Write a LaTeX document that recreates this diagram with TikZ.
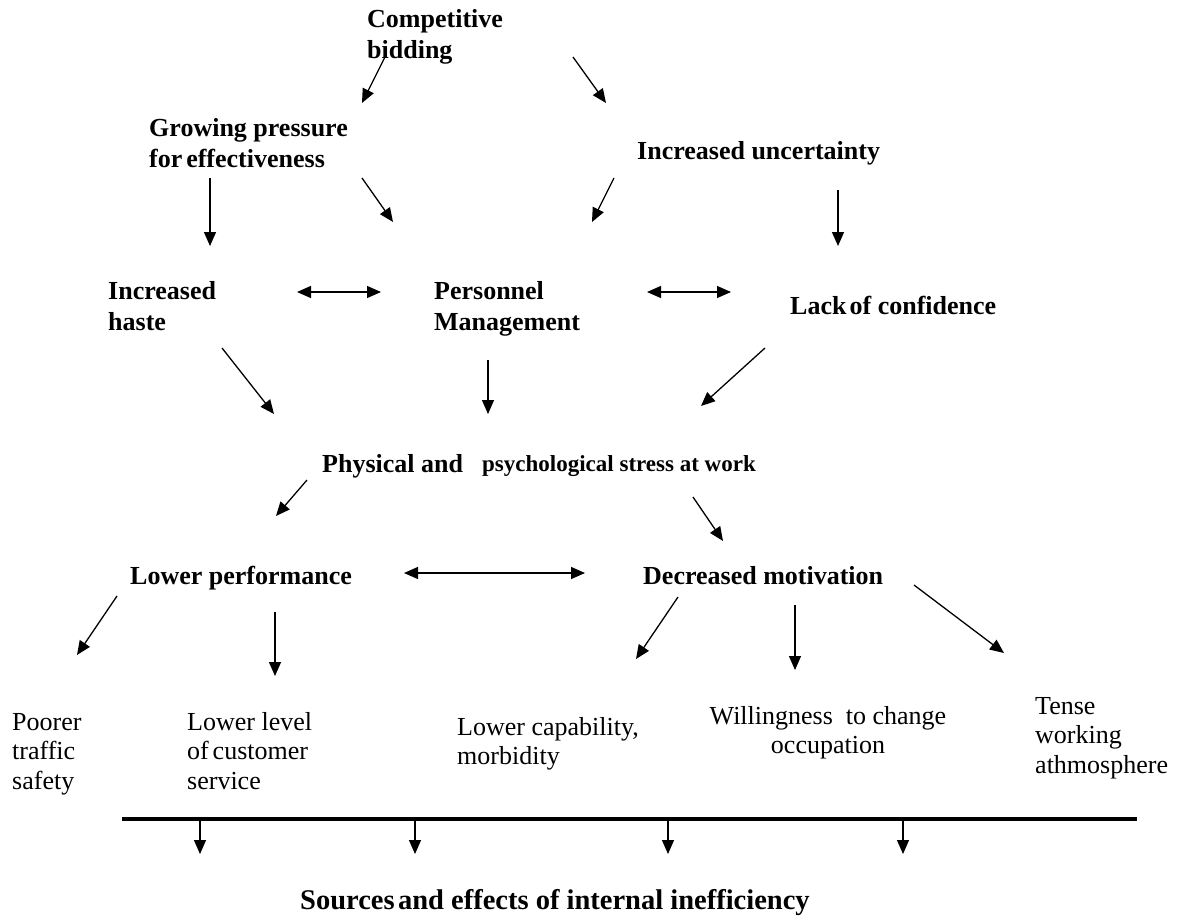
\documentclass[tikz,border=0pt]{standalone}
\usepackage{fontspec}
\setmainfont{Liberation Serif}
\usetikzlibrary{arrows.meta}
\newcommand{\mylines}[2][l]{\begin{tabular}[t]{@{}#1@{}}#2\end{tabular}}
\begin{document}
\begin{tikzpicture}[x=1pt,y=-1pt,
  bold/.style={font=\fontsize{26}{31}\selectfont\bfseries, inner sep=0pt, anchor=base west},
  boldsmall/.style={font=\fontsize{23}{28}\selectfont\bfseries, inner sep=0pt, anchor=base west},
  plain/.style={font=\fontsize{26}{29.5}\selectfont, inner sep=0pt, anchor=base west},
  title/.style={font=\fontsize{28.5}{33}\selectfont\bfseries, inner sep=0pt, anchor=base west},
  arr/.style={line width=1.3pt, -{Triangle[length=14pt,width=12pt]}},
  darr/.style={line width=1.3pt, {Triangle[length=14pt,width=12pt]}-{Triangle[length=14pt,width=12pt]}},
  rule/.style={line width=4pt}]
\useasboundingbox (0,0) rectangle (1187,924);

% text nodes
\node[bold] (cb) at (367,27) {\mylines{Competitive\\bidding}};
\node[bold] (gp) at (149,136) {\mylines{Growing pressure\\for\hspace{0.15em}effectiveness}};
\node[bold] (iu) at (637,159) {Increased uncertainty};
\node[bold] (ih) at (108,299) {\mylines{Increased\\haste}};
\node[bold] (pm) at (434,299) {\mylines{Personnel\\Management}};
\node[bold] (lc) at (790,314) {Lack\hspace{0.12em}of confidence};
\node[bold] (ps1) at (322,472) {Physical and};
\node[boldsmall] (ps2) at (482,471) {psychological stress at work};
\node[bold] (lp) at (130,584) {Lower performance};
\node[bold] (dm) at (643,584) {Decreased motivation};
\node[plain] (pt) at (12,730) {\mylines{Poorer\\traffic\\safety}};
\node[plain] (ll) at (187,730) {\mylines{Lower level\\of\hspace{0.15em}customer\\service}};
\node[plain] (lcap) at (457,735) {\mylines{Lower capability,\\morbidity}};
\node[plain, anchor=base] (wc) at (828,724) {\mylines[c]{Willingness\ \ to change\\occupation}};
\node[plain] (tw) at (1035,714) {\mylines{Tense\\working\\athmosphere}};
\node[title] (src) at (300,909) {Sources\hspace{0.12em}and effects of internal inefficiency};

% connector end points
\coordinate (c1a) at (385,57);  \coordinate (c1b) at (362,103);
\coordinate (c2a) at (573,57);  \coordinate (c2b) at (606,103);
\coordinate (c3a) at (210,178); \coordinate (c3b) at (210,246);
\coordinate (c4a) at (362,178); \coordinate (c4b) at (393,222);
\coordinate (c5a) at (614,178); \coordinate (c5b) at (592,222);
\coordinate (c6a) at (838,190); \coordinate (c6b) at (838,246);
\coordinate (d1a) at (297,292); \coordinate (d1b) at (381,292);
\coordinate (d2a) at (647,292); \coordinate (d2b) at (731,292);
\coordinate (c7a) at (222,348); \coordinate (c7b) at (274,414);
\coordinate (c8a) at (488,360); \coordinate (c8b) at (488,414);
\coordinate (c9a) at (765,348); \coordinate (c9b) at (701,406);
\coordinate (c10a) at (307,480); \coordinate (c10b) at (276,516);
\coordinate (c11a) at (693,497); \coordinate (c11b) at (723,541);
\coordinate (d3a) at (404,573); \coordinate (d3b) at (585,573);
\coordinate (c12a) at (117,596); \coordinate (c12b) at (77,655);
\coordinate (c13a) at (275,612); \coordinate (c13b) at (275,676);
\coordinate (c14a) at (678,597); \coordinate (c14b) at (636,659);
\coordinate (c15a) at (795,605); \coordinate (c15b) at (795,670);
\coordinate (c16a) at (914,585); \coordinate (c16b) at (1004,653);
\coordinate (rl) at (122,819); \coordinate (rr) at (1137,819);
\coordinate (b1a) at (200,820); \coordinate (b1b) at (200,854);
\coordinate (b2a) at (415,820); \coordinate (b2b) at (415,854);
\coordinate (b3a) at (668,820); \coordinate (b3b) at (668,854);
\coordinate (b4a) at (903,820); \coordinate (b4b) at (903,854);

% connectors
\draw[arr] (c1a) -- (c1b);
\draw[arr] (c2a) -- (c2b);
\draw[arr] (c3a) -- (c3b);
\draw[arr] (c4a) -- (c4b);
\draw[arr] (c5a) -- (c5b);
\draw[arr] (c6a) -- (c6b);
\draw[darr] (d1a) -- (d1b);
\draw[darr] (d2a) -- (d2b);
\draw[arr] (c7a) -- (c7b);
\draw[arr] (c8a) -- (c8b);
\draw[arr] (c9a) -- (c9b);
\draw[arr] (c10a) -- (c10b);
\draw[arr] (c11a) -- (c11b);
\draw[darr] (d3a) -- (d3b);
\draw[arr] (c12a) -- (c12b);
\draw[arr] (c13a) -- (c13b);
\draw[arr] (c14a) -- (c14b);
\draw[arr] (c15a) -- (c15b);
\draw[arr] (c16a) -- (c16b);
\draw[rule] (rl) -- (rr);
\draw[arr] (b1a) -- (b1b);
\draw[arr] (b2a) -- (b2b);
\draw[arr] (b3a) -- (b3b);
\draw[arr] (b4a) -- (b4b);
\end{tikzpicture}
\end{document}
